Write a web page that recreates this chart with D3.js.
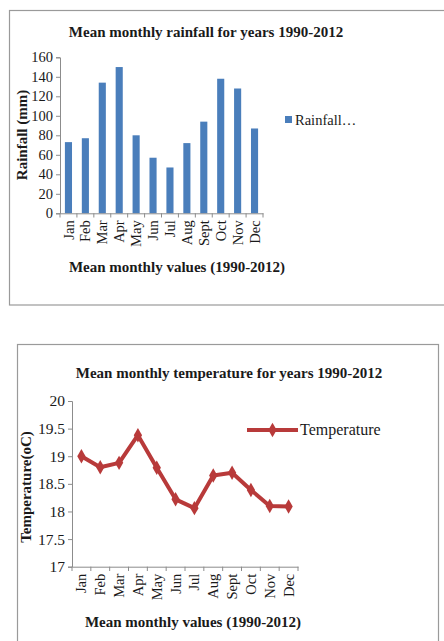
<!DOCTYPE html>
<html><head><meta charset="utf-8">
<script src="https://cdn.jsdelivr.net/npm/d3@7"></script>
<style>
html,body{margin:0;padding:0;background:#fff;}
svg{display:block;}
svg text{font-family:"Liberation Serif","Times New Roman",serif !important;}
</style></head>
<body>
<svg id="c" width="444" height="641"></svg>
<script>
const months = ["Jan","Feb","Mar","Apr","May","Jun","Jul","Aug","Sept","Oct","Nov","Dec"];
const rainfall = [73, 77, 134, 150, 80, 57, 47, 72, 94, 138, 128, 87];
const temperature = [19.0, 18.8, 18.88, 19.38, 18.79, 18.22, 18.06, 18.65, 18.7, 18.39, 18.1, 18.09];
const rainTicks = [0,20,40,60,80,100,120,140,160];
const tempTicks = [17,17.5,18,18.5,19,19.5,20];

const svg = d3.select("#c");
const axisCol = "#8c8c8c";
const txtCol = "#1a1a1a";

// ---------- Rainfall chart ----------
svg.append("rect").attr("x",9.5).attr("y",10.5).attr("width",440).attr("height",294.5)
  .attr("fill","none").attr("stroke","#9a9a9a").attr("stroke-width",1.2);

svg.append("text").attr("x",206).attr("y",37).attr("text-anchor","middle").attr("fill",txtCol)
  .attr("font-weight","bold").attr("font-size",15).text("Mean monthly rainfall  for years 1990-2012");

const x1 = d3.scaleBand().domain(months).range([60,263]).paddingInner(0.58).paddingOuter(0.29);
const xb1 = d3.scaleBand().domain(months).range([60,263]);
const y1 = d3.scaleLinear().domain([0,160]).range([213.3,57.3]);

const g1 = svg.append("g");
g1.selectAll("rect.bar").data(rainfall).join("rect").attr("class","bar")
  .attr("x",(d,i)=>x1(months[i])).attr("width",x1.bandwidth())
  .attr("y",d=>y1(d)).attr("height",d=>y1(0)-y1(d)).attr("fill","#4a7ebb");

const ya1 = g1.append("g").attr("transform","translate(60,0)")
  .call(d3.axisLeft(y1).tickValues(rainTicks).tickSize(4).tickPadding(3));
ya1.selectAll("text").attr("font-size",14.5).attr("fill",txtCol);
ya1.selectAll("line,path").attr("stroke",axisCol);

const xa1 = g1.append("g").attr("transform","translate(0,213.3)")
  .call(d3.axisBottom(xb1).tickSize(0).tickPadding(0));
xa1.select("path").attr("stroke",axisCol);
xa1.selectAll("text").attr("font-size",14.5).attr("fill",txtCol)
  .attr("text-anchor","end").attr("dy","0.35em").attr("transform","translate(0,7) rotate(-90)").attr("x",0).attr("y",0);
g1.append("g").selectAll("line").data(d3.range(13)).join("line")
  .attr("x1",i=>60+i*xb1.step()).attr("x2",i=>60+i*xb1.step())
  .attr("y1",213.3).attr("y2",217.5).attr("stroke",axisCol);

svg.append("text").attr("transform","translate(27,135) rotate(-90)").attr("text-anchor","middle").attr("fill",txtCol)
  .attr("font-weight","bold").attr("font-size",15).text("Rainfall  (mm)");
svg.append("text").attr("x",177).attr("y",272).attr("text-anchor","middle").attr("fill",txtCol)
  .attr("font-weight","bold").attr("font-size",15).text("Mean monthly values (1990-2012)");

svg.append("rect").attr("x",285).attr("y",116).attr("width",7).attr("height",7).attr("fill","#4a7ebb");
svg.append("text").attr("x",295).attr("y",125).attr("font-size",14.5).attr("fill",txtCol).text("Rainfall…");

// ---------- Temperature chart ----------
svg.append("rect").attr("x",17.5).attr("y",344.5).attr("width",421).attr("height",310)
  .attr("fill","none").attr("stroke","#9a9a9a").attr("stroke-width",1.2);

svg.append("text").attr("x",229).attr("y",378).attr("text-anchor","middle").attr("fill",txtCol)
  .attr("font-weight","bold").attr("font-size",15).text("Mean monthly temperature  for years 1990-2012");

const x2 = d3.scaleBand().domain(months).range([72,298]);
const y2 = d3.scaleLinear().domain([17,20]).range([566.7,401]);
const g2 = svg.append("g");

const ya2 = g2.append("g").attr("transform","translate(72,0)")
  .call(d3.axisLeft(y2).tickValues(tempTicks).tickFormat(d3.format("")).tickSize(4).tickPadding(3));
ya2.selectAll("text").attr("font-size",15.5).attr("fill",txtCol);
ya2.selectAll("line,path").attr("stroke",axisCol);

const xa2 = g2.append("g").attr("transform","translate(0,566.7)")
  .call(d3.axisBottom(x2).tickSize(0).tickPadding(0));
xa2.select("path").attr("stroke",axisCol);
xa2.selectAll("text").attr("font-size",14.5).attr("fill",txtCol)
  .attr("text-anchor","end").attr("dy","0.35em").attr("transform","translate(0,7) rotate(-90)").attr("x",0).attr("y",0);
g2.append("g").selectAll("line").data(d3.range(13)).join("line")
  .attr("x1",i=>72+i*x2.step()).attr("x2",i=>72+i*x2.step())
  .attr("y1",566.7).attr("y2",571).attr("stroke",axisCol);

const lineCol = "#b83a3a";
const line = d3.line().x((d,i)=>x2(months[i])+x2.bandwidth()/2).y(d=>y2(d));
g2.append("path").datum(temperature).attr("d",line).attr("fill","none")
  .attr("stroke",lineCol).attr("stroke-width",4).attr("stroke-linejoin","round");
const diamond = d3.symbol().type(d3.symbolDiamond).size(60);
g2.selectAll("path.pt").data(temperature).join("path").attr("class","pt")
  .attr("d",diamond).attr("fill",lineCol)
  .attr("transform",(d,i)=>`translate(${x2(months[i])+x2.bandwidth()/2},${y2(d)})`);

svg.append("text").attr("transform","translate(31,487) rotate(-90)").attr("text-anchor","middle").attr("fill",txtCol)
  .attr("font-weight","bold").attr("font-size",15).text("Temperature(oC)");
svg.append("text").attr("x",193).attr("y",627).attr("text-anchor","middle").attr("fill",txtCol)
  .attr("font-weight","bold").attr("font-size",15).text("Mean monthly values (1990-2012)");

svg.append("line").attr("x1",247).attr("x2",298).attr("y1",430).attr("y2",430)
  .attr("stroke",lineCol).attr("stroke-width",4);
svg.append("path").attr("d",diamond).attr("fill",lineCol).attr("transform","translate(272.5,430)");
svg.append("text").attr("x",300).attr("y",435).attr("font-size",16).attr("fill",txtCol).text("Temperature");
</script>
</body></html>
